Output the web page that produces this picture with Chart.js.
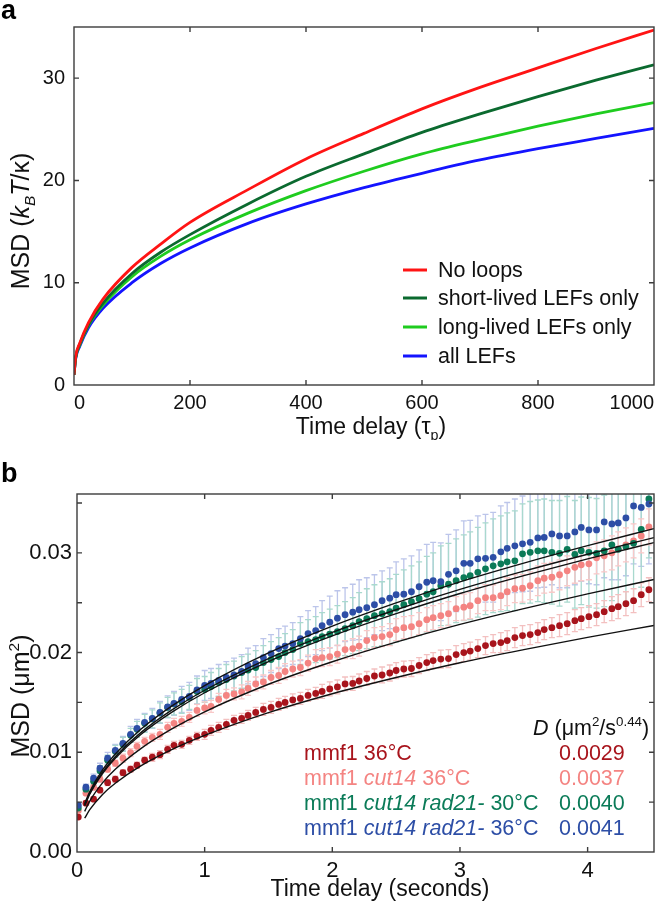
<!DOCTYPE html>
<html>
<head>
<meta charset="utf-8">
<script src="https://cdn.jsdelivr.net/npm/chart.js@4.4.0/dist/chart.umd.min.js"></script>
<style>
  body { margin: 0; background: #fff; }
  .panel { position: absolute; left: 0; }
</style>
</head>
<body>
<div class="panel" style="top:0"><canvas id="chartA" width="666" height="440"></canvas></div>
<div class="panel" style="top:440px"><canvas id="chartB" width="666" height="466"></canvas></div>
<script>
const FONT = '"Liberation Sans", Arial, Helvetica, sans-serif'

// ---- panel a : simulated MSD curves ----
const delayTau = [0, 3, 10, 25, 50, 100, 150, 200, 300, 400, 500, 600, 700, 800, 900, 1000]
const msdNoLoops = [1.0, 2.8, 4.1, 6.1, 8.4, 11.5, 13.8, 15.9, 19.1, 22.1, 24.6, 27.0, 29.1, 31.0, 32.9, 34.7]
const msdShortLived = [1.0, 2.7, 4.0, 5.9, 8.0, 10.9, 13.0, 14.7, 17.7, 20.4, 22.6, 24.7, 26.5, 28.2, 29.8, 31.3]
const msdLongLived = [1.0, 2.7, 3.9, 5.8, 7.8, 10.6, 12.6, 14.2, 16.8, 19.0, 20.9, 22.6, 24.0, 25.3, 26.5, 27.6]
const msdAllLefs = [1.0, 2.6, 3.8, 5.6, 7.5, 10.0, 11.9, 13.4, 15.8, 17.7, 19.3, 20.7, 22.0, 23.1, 24.1, 25.1]
const simLabels = ['No loops', 'short-lived LEFs only', 'long-lived LEFs only', 'all LEFs']
const simColors = ['#ff1414', '#0b6a2f', '#1fcc1f', '#1414ff']
const xTicksA = [0, 200, 400, 600, 800, 1000]
const yTicksA = [0, 10, 20, 30]

// ---- panel b : measured MSD (values in 10^-3 um^2) ----
const delaySec = [0.01, 0.07, 0.13, 0.18, 0.24, 0.30, 0.36, 0.42, 0.47, 0.53,
  0.59, 0.65, 0.71, 0.76, 0.82, 0.88, 0.94, 1.00, 1.05, 1.11,
  1.17, 1.23, 1.29, 1.34, 1.40, 1.46, 1.52, 1.58, 1.63, 1.69,
  1.75, 1.81, 1.87, 1.92, 1.98, 2.04, 2.10, 2.16, 2.21, 2.27,
  2.33, 2.39, 2.45, 2.50, 2.56, 2.62, 2.68, 2.74, 2.79, 2.85,
  2.91, 2.97, 3.03, 3.08, 3.14, 3.20, 3.26, 3.32, 3.37, 3.43,
  3.49, 3.55, 3.61, 3.66, 3.72, 3.78, 3.84, 3.90, 3.95, 4.01,
  4.07, 4.13, 4.19, 4.24, 4.30, 4.36, 4.42, 4.48]

const msdMmf1 = [3.5, 4.9, 5.3, 6.2, 6.95, 7.3, 7.95, 8.3, 8.7, 9.2,
  9.5, 9.76, 10.3, 10.7, 10.8, 11.2, 11.6, 11.8, 12.2, 12.5,
  12.8, 13.2, 13.4, 13.7, 14.0, 14.3, 14.5, 14.8, 15.0, 15.25,
  15.4, 15.7, 15.9, 16.1, 16.35, 16.55, 16.85, 16.9, 17.15, 17.4,
  17.65, 17.75, 17.95, 18.2, 18.35, 18.4, 18.7, 19.0, 19.2, 19.35,
  19.4, 19.8, 20.0, 20.15, 20.4, 20.7, 20.9, 21.0, 21.2, 21.5,
  21.7, 21.8, 22.0, 22.3, 22.5, 22.7, 22.9, 23.2, 23.4, 23.6,
  23.8, 24.1, 24.4, 24.6, 24.9, 25.2, 25.8, 26.3]
const msdCut14 = [4.15, 5.9, 6.5, 7.3, 8.3, 8.9, 9.4, 9.96, 10.6, 11.1,
  11.5, 11.8, 12.5, 12.9, 13.1, 13.5, 14.2, 14.45, 14.6, 15.3,
  15.7, 15.85, 16.05, 16.4, 16.85, 17.05, 17.5, 17.7, 18.1, 18.35,
  18.5, 18.95, 19.4, 19.5, 19.6, 19.85, 20.3, 20.4, 20.65, 21.2,
  21.5, 21.6, 21.8, 22.3, 22.5, 22.6, 22.9, 23.3, 23.5, 23.7,
  23.9, 24.4, 24.55, 24.7, 25.2, 25.5, 25.5, 25.7, 26.1, 26.4,
  26.45, 26.7, 27.2, 27.45, 27.55, 27.8, 28.2, 28.55, 28.8, 28.9,
  29.5, 29.7, 30.0, 30.4, 30.8, 31.2, 31.7, 32.6]
const msdRad21At30 = [4.4, 6.3, 7.1, 8.15, 9.2, 10.1, 10.8, 11.7, 12.3, 12.9,
  13.35, 13.95, 14.5, 14.85, 15.1, 15.5, 16.1, 16.3, 16.6, 17.0,
  17.3, 17.65, 18.0, 18.25, 18.5, 19.0, 19.3, 19.6, 20.0, 20.3,
  20.9, 21.1, 21.3, 21.6, 21.85, 22.1, 22.4, 22.7, 23.1, 23.4,
  23.7, 23.9, 24.1, 24.45, 24.8, 25.1, 25.4, 25.85, 26.1, 26.7,
  26.85, 27.2, 27.5, 27.7, 28.05, 28.4, 28.7, 28.9, 29.1, 29.2,
  29.9, 30.05, 30.2, 30.2, 30.05, 29.95, 30.35, 29.85, 30.2, 30.05,
  29.95, 30.2, 30.8, 30.35, 30.6, 30.95, 32.35, 35.4]
const msdRad21At36 = [4.7, 6.5, 7.4, 8.4, 9.4, 10.2, 10.9, 11.8, 12.4, 13.0,
  13.4, 14.0, 14.55, 14.9, 15.3, 15.6, 16.25, 16.7, 16.9, 17.2,
  17.5, 17.75, 18.1, 18.65, 18.9, 19.5, 19.9, 20.4, 20.65, 20.9,
  21.4, 21.9, 22.2, 22.7, 23.05, 23.45, 23.8, 24.05, 24.3, 24.5,
  24.8, 25.2, 25.45, 25.8, 25.85, 26.1, 26.6, 27.05, 27.2, 27.1,
  27.85, 28.2, 28.95, 28.95, 29.4, 29.45, 29.55, 30.1, 30.45, 30.7,
  30.9, 31.05, 31.5, 31.55, 31.9, 31.7, 31.7, 32.1, 32.55, 32.3,
  32.3, 33.1, 32.9, 33.0, 33.5, 34.7, 34.55, 34.9]

// error bar half-lengths (10^-3 um^2)
const errMmf1 = [0.2, 0.2, 0.2, 0.2, 0.3, 0.3, 0.3, 0.3, 0.3, 0.3,
  0.4, 0.4, 0.4, 0.4, 0.4, 0.4, 0.4, 0.5, 0.5, 0.5,
  0.5, 0.5, 0.5, 0.5, 0.5, 0.6, 0.6, 0.6, 0.6, 0.6,
  0.6, 0.6, 0.6, 0.7, 0.7, 0.7, 0.7, 0.7, 0.7, 0.7,
  0.7, 0.8, 0.8, 0.8, 0.8, 0.8, 0.8, 0.8, 0.8, 0.9,
  0.9, 0.9, 0.9, 0.9, 0.9, 0.9, 0.9, 1.0, 1.0, 1.0,
  1.0, 1.0, 1.0, 1.0, 1.0, 1.1, 1.1, 1.1, 1.1, 1.1,
  1.1, 1.1, 1.2, 1.2, 1.2, 1.2, 1.2, 1.2]
const errCut14 = [0.2, 0.2, 0.3, 0.3, 0.3, 0.3, 0.4, 0.4, 0.4, 0.4,
  0.4, 0.5, 0.5, 0.5, 0.5, 0.5, 0.6, 0.6, 0.6, 0.6,
  0.6, 0.6, 0.7, 0.7, 0.7, 0.7, 0.7, 0.8, 0.8, 0.8,
  0.8, 0.8, 0.9, 0.9, 0.9, 0.9, 0.9, 1.0, 1.0, 1.0,
  1.0, 1.0, 1.1, 1.1, 1.1, 1.1, 1.1, 1.2, 1.2, 1.2,
  1.2, 1.2, 1.3, 1.3, 1.3, 1.3, 1.3, 1.4, 1.4, 1.4,
  1.4, 1.4, 1.5, 1.5, 1.5, 1.5, 1.5, 1.6, 1.6, 1.6,
  1.6, 1.6, 1.7, 1.7, 1.7, 1.7, 1.7, 1.8]
const errRad21At30 = [0.2, 0.3, 0.4, 0.5, 0.5, 0.6, 0.7, 0.7, 0.8, 0.9,
  0.9, 1.0, 1.0, 1.1, 1.2, 1.2, 1.3, 1.3, 1.4, 1.4,
  1.5, 1.5, 1.6, 1.6, 1.7, 1.7, 1.8, 1.9, 1.9, 2.0,
  2.1, 2.2, 2.3, 2.4, 2.5, 2.6, 2.7, 2.8, 2.9, 3.0,
  3.1, 3.2, 3.3, 3.4, 3.5, 3.6, 3.7, 3.8, 3.9, 4.0,
  4.1, 4.2, 4.3, 4.4, 4.5, 4.6, 4.7, 4.8, 4.9, 5.0,
  5.0, 5.1, 5.1, 5.2, 5.2, 5.3, 5.3, 5.4, 5.4, 5.5,
  5.5, 5.6, 5.6, 5.7, 5.7, 5.8, 5.8, 5.9]
const errRad21At36 = [0.2, 0.3, 0.4, 0.5, 0.6, 0.6, 0.7, 0.8, 0.9, 0.9,
  1.0, 1.1, 1.1, 1.2, 1.3, 1.4, 1.4, 1.5, 1.5, 1.6,
  1.6, 1.7, 1.7, 1.8, 1.8, 1.9, 1.9, 2.0, 2.0, 2.1,
  2.2, 2.3, 2.4, 2.5, 2.6, 2.75, 2.7, 2.8, 3.0, 3.0,
  3.0, 3.0, 3.05, 3.3, 3.55, 3.6, 3.7, 3.8, 3.85, 3.9,
  4.0, 4.1, 4.25, 4.3, 4.3, 4.4, 4.5, 4.6, 4.6, 4.7,
  4.8, 4.9, 5.0, 5.0, 5.1, 5.2, 5.2, 5.3, 5.4, 5.4,
  5.5, 5.6, 5.6, 5.7, 5.8, 5.8, 5.9, 6.0]

// power-law fit curves (10^-3 um^2)
const fitSec = [0.06, 0.1, 0.2, 0.3, 0.5, 0.75, 1, 1.5, 2, 2.5, 3, 3.5, 4, 4.52]
const fitCurves = [
  [3.39, 4.24, 5.77, 6.89, 8.63, 10.31, 11.69, 13.98, 15.87, 17.50, 18.98, 20.29, 21.52, 22.72],
  [4.08, 5.11, 6.93, 8.29, 10.37, 12.39, 14.06, 16.82, 19.08, 21.05, 22.82, 24.41, 25.88, 27.33],
  [4.63, 5.80, 7.87, 9.41, 11.78, 14.07, 15.97, 19.10, 21.67, 23.90, 25.92, 27.71, 29.39, 31.03],
  [4.71, 5.89, 8.00, 9.56, 11.97, 14.30, 16.22, 19.40, 22.02, 24.29, 26.33, 28.16, 29.86, 31.53],
  [4.84, 6.06, 8.23, 9.83, 12.31, 14.71, 16.69, 19.96, 22.65, 24.98, 27.09, 28.97, 30.72, 32.43]
]

const strainRows = [
  [{ t: 'mmf1 36°C' }],
  [{ t: 'mmf1 ' }, { t: 'cut14', it: 1 }, { t: ' 36°C' }],
  [{ t: 'mmf1 ' }, { t: 'cut14 rad21-', it: 1 }, { t: ' 30°C' }],
  [{ t: 'mmf1 ' }, { t: 'cut14 rad21-', it: 1 }, { t: ' 36°C' }]
]
const strainD = ['0.0029', '0.0037', '0.0040', '0.0041']
const strainColors = ['#a8141c', '#f48482', '#0b7b58', '#2d4ea6']
const errColors = ['#f3c0c0', '#f9c8c8', '#a9d9ce', '#bcc5ea']
const strainMsd = [msdMmf1, msdCut14, msdRad21At30, msdRad21At36]
const strainErr = [errMmf1, errCut14, errRad21At30, errRad21At36]

Chart.defaults.font.family = FONT
Chart.defaults.color = '#111'

// draws a run of text pieces (italic / sub / sup) on one baseline
function richText(ctx, parts, x, y, size, color, align) {
  const fontOf = p => (p.it ? 'italic ' : '') + (p.b ? 'bold ' : '') +
    ((p.sub || p.sup) ? size * 0.62 : size) + 'px ' + FONT
  let w = 0
  for (const p of parts) { ctx.font = fontOf(p); w += ctx.measureText(p.t).width }
  let cx = align === 'center' ? x - w / 2 : x
  ctx.fillStyle = color
  ctx.textAlign = 'left'
  ctx.textBaseline = 'alphabetic'
  for (const p of parts) {
    ctx.font = fontOf(p)
    const dy = p.sub ? size * 0.24 : p.sup ? -size * 0.42 : 0
    ctx.fillText(p.t, cx, y + dy)
    cx += ctx.measureText(p.t).width
  }
}

function verticalText(ctx, parts, cx, cy, size, color) {
  ctx.save()
  ctx.translate(cx, cy)
  ctx.rotate(-Math.PI / 2)
  richText(ctx, parts, 0, size * 0.36, size, color, 'center')
  ctx.restore()
}

// box frame with short inward ticks on all four sides
const boxTicks = {
  id: 'boxTicks',
  afterDatasetsDraw(chart) {
    const { ctx, chartArea: a, scales } = chart
    ctx.save()
    ctx.strokeStyle = '#3c3c3c'
    ctx.lineWidth = 1.4
    ctx.strokeRect(a.left, a.top, a.right - a.left, a.bottom - a.top)
    ctx.beginPath()
    for (const t of scales.x.ticks) {
      const px = scales.x.getPixelForValue(t.value)
      if (px <= a.left + 1 || px >= a.right - 1) continue
      ctx.moveTo(px, a.bottom); ctx.lineTo(px, a.bottom - 5)
      ctx.moveTo(px, a.top); ctx.lineTo(px, a.top + 5)
    }
    for (const t of scales.y.ticks) {
      const py = scales.y.getPixelForValue(t.value)
      if (py <= a.top + 1 || py >= a.bottom - 1) continue
      ctx.moveTo(a.left, py); ctx.lineTo(a.left + 5, py)
      ctx.moveTo(a.right, py); ctx.lineTo(a.right - 5, py)
    }
    ctx.stroke()
    ctx.restore()
  }
}

const panelA = {
  id: 'panelA',
  afterDraw(chart) {
    const ctx = chart.ctx
    ctx.save()
    richText(ctx, [{ t: 'a', b: 1 }], 1, 19, 27, '#000', 'left')
    verticalText(ctx, [{ t: 'MSD (' }, { t: 'k', it: 1 }, { t: 'B', it: 1, sub: 1 }, { t: 'T', it: 1 }, { t: '/κ)' }], 20, 221, 25, '#111')
    richText(ctx, [{ t: 'Time delay (τ' }, { t: 'p', sub: 1 }, { t: ')' }], 371, 434, 23, '#111', 'center')
    const rows = [270, 298, 327, 356]
    simLabels.forEach((lab, i) => {
      ctx.strokeStyle = simColors[i]
      ctx.lineWidth = 3
      ctx.beginPath(); ctx.moveTo(403, rows[i]); ctx.lineTo(427, rows[i]); ctx.stroke()
      ctx.fillStyle = '#111'
      ctx.font = '21.5px ' + FONT
      ctx.textBaseline = 'middle'
      ctx.fillText(lab, 438, rows[i] + 1)
    })
    ctx.restore()
  }
}

new Chart(document.getElementById('chartA'), {
  type: 'line',
  data: {
    datasets: [msdNoLoops, msdShortLived, msdLongLived, msdAllLefs].map((arr, i) => ({
      label: simLabels[i],
      data: arr.map((v, j) => ({ x: delayTau[j], y: v })),
      borderColor: simColors[i],
      borderWidth: 2.8,
      pointRadius: 0,
      cubicInterpolationMode: 'monotone',
      order: i
    }))
  },
  options: {
    responsive: false,
    animation: false,
    layout: { padding: { top: 27, right: 12, left: 0, bottom: 0 } },
    plugins: { legend: { display: false }, tooltip: { enabled: false } },
    scales: {
      x: {
        type: 'linear', min: 0, max: 1000,
        grid: { display: false, drawTicks: false }, border: { display: false },
        ticks: {
          stepSize: 200, includeBounds: false, maxRotation: 0, padding: 6, align: 'inner',
          font: { size: 20 }, callback: v => String(v)
        },
        afterBuildTicks: s => { s.ticks = xTicksA.map(v => ({ value: v })) },
        afterFit: s => { s.height = 55; s.paddingLeft = 0; s.paddingRight = 0 }
      },
      y: {
        min: 0, max: 35,
        grid: { display: false, drawTicks: false }, border: { display: false },
        ticks: { stepSize: 10, includeBounds: false, padding: 9, font: { size: 20 } },
        afterBuildTicks: s => { s.ticks = yTicksA.map(v => ({ value: v })) },
        afterFit: s => { s.width = 74; s.paddingTop = 0; s.paddingBottom = 0 }
      }
    }
  },
  plugins: [boxTicks, panelA]
})

// error bars drawn behind the dots
const errorBars = {
  id: 'errorBars',
  beforeDatasetsDraw(chart) {
    const { ctx, chartArea: a, scales: { x, y } } = chart
    ctx.save()
    ctx.beginPath(); ctx.rect(a.left, a.top, a.right - a.left, a.bottom - a.top); ctx.clip()
    ctx.lineWidth = 1.3
    for (const k of [3, 2, 1, 0]) {
      ctx.strokeStyle = errColors[k]
      ctx.beginPath()
      strainMsd[k].forEach((v, i) => {
        const px = x.getPixelForValue(delaySec[i])
        const hi = y.getPixelForValue((v + strainErr[k][i]) / 1000)
        const lo = y.getPixelForValue((v - strainErr[k][i]) / 1000)
        ctx.moveTo(px, hi); ctx.lineTo(px, lo)
        ctx.moveTo(px - 3, hi); ctx.lineTo(px + 3, hi)
        ctx.moveTo(px - 3, lo); ctx.lineTo(px + 3, lo)
      })
      ctx.stroke()
    }
    ctx.restore()
  }
}

const panelB = {
  id: 'panelB',
  afterDraw(chart) {
    const ctx = chart.ctx
    ctx.save()
    richText(ctx, [{ t: 'b', b: 1 }], 1, 42, 27, '#000', 'left')
    verticalText(ctx, [{ t: 'MSD (μm' }, { t: '2', sup: 1 }, { t: ')' }], 20, 256, 25, '#111')
    richText(ctx, [{ t: 'Time delay (seconds)' }], 380, 456, 23, '#111', 'center')
    richText(ctx, [{ t: 'D', it: 1 }, { t: ' (μm' }, { t: '2', sup: 1 }, { t: '/s' }, { t: '0.44', sup: 1 }, { t: ')' }], 533, 295, 21.5, '#111', 'left')
    strainRows.forEach((parts, i) => {
      richText(ctx, parts, 304, 320 + 25 * i, 21.5, strainColors[i], 'left')
      richText(ctx, [{ t: strainD[i] }], 559, 320 + 25 * i, 21.5, strainColors[i], 'left')
    })
    ctx.restore()
  }
}

const fitSets = fitCurves.map(arr => ({
  type: 'line',
  data: arr.map((v, j) => ({ x: fitSec[j], y: v / 1000 })),
  borderColor: '#111',
  borderWidth: 1.4,
  pointRadius: 0,
  cubicInterpolationMode: 'monotone',
  order: 0
}))
const dotOrder = [4, 3, 2, 1]
const dotSets = strainMsd.map((arr, k) => ({
  type: 'line',
  showLine: false,
  data: arr.map((v, i) => ({ x: delaySec[i], y: v / 1000 })),
  pointRadius: 3.4,
  pointBorderWidth: 0,
  pointBackgroundColor: strainColors[k],
  borderColor: strainColors[k],
  order: dotOrder[k]
}))

new Chart(document.getElementById('chartB'), {
  type: 'line',
  data: { datasets: [...dotSets, ...fitSets] },
  options: {
    responsive: false,
    animation: false,
    layout: { padding: { top: 54, right: 12, left: 0, bottom: 0 } },
    plugins: { legend: { display: false }, tooltip: { enabled: false } },
    scales: {
      x: {
        type: 'linear', min: 0, max: 4.52,
        grid: { display: false, drawTicks: false }, border: { display: false },
        ticks: { stepSize: 1, includeBounds: false, maxRotation: 0, padding: 6, font: { size: 22 } },
        afterFit: s => { s.height = 54; s.paddingLeft = 0; s.paddingRight = 0 }
      },
      y: {
        min: 0, max: 0.0359,
        grid: { display: false, drawTicks: false }, border: { display: false },
        ticks: {
          stepSize: 0.005, includeBounds: false, padding: 5, font: { size: 22 },
          callback: v => (Math.round(v * 1000) % 10 === 0 ? v.toFixed(2) : '')
        },
        afterFit: s => { s.width = 77; s.paddingTop = 0; s.paddingBottom = 0 }
      }
    }
  },
  plugins: [errorBars, boxTicks, panelB]
})
</script>
</body>
</html>
